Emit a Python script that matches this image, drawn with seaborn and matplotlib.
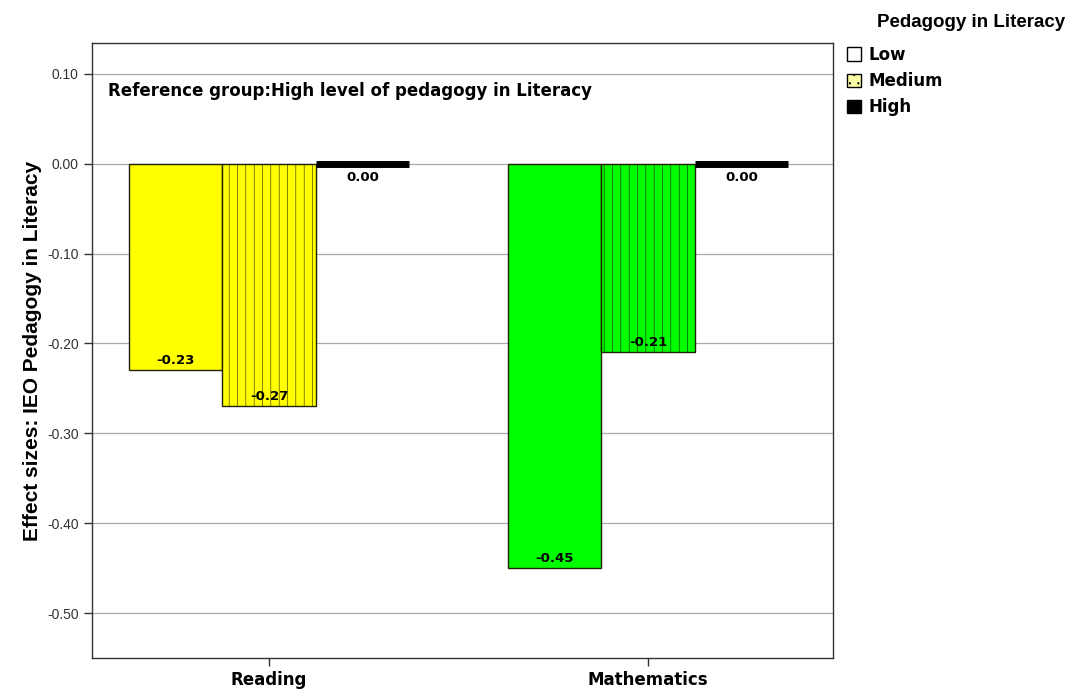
import pandas as pd
import matplotlib
matplotlib.use("Agg")
import matplotlib.pyplot as plt
import seaborn as sns
from matplotlib.patches import Patch

# data
subjects = ["Reading", "Mathematics"]
levels = ["Low", "Medium", "High"]
reading_vals = [-0.23, -0.27, 0.00]
math_vals = [-0.45, -0.21, 0.00]
yticks = [0.10, 0.00, -0.10, -0.20, -0.30, -0.40, -0.50]

sns.set_style("white")
plt.rcParams['font.family'] = ['Liberation Sans', 'DejaVu Sans']
plt.rcParams['hatch.linewidth'] = 0.4
plt.rcParams['text.color'] = 'black'
plt.rcParams['axes.labelcolor'] = 'black'
plt.rcParams['xtick.color'] = 'black'
wide = ['DejaVu Sans']  # wider bold face, closer to the spaced-out labels

df = pd.DataFrame({
    "subject": [s for s in subjects for _ in levels],
    "level": levels * 2,
    "value": reading_vals + math_vals,
})

fig = plt.figure(figsize=(10.75, 6.98), dpi=100)
ax = fig.add_axes([0.0856, 0.0573, 0.6895, 0.8811])

sns.barplot(data=df, x="subject", y="value", hue="level", hue_order=levels,
            order=subjects, width=0.74, errorbar=None, ax=ax, legend=False,
            edgecolor="black", linewidth=1)

subject_colors = {"Reading": "#ffff00", "Mathematics": "#00ff00"}
# bars come grouped by hue level
for i, lvl in enumerate(levels):
    cont = ax.containers[i]
    for j, bar in enumerate(cont):
        subj = subjects[j]
        val = df[(df.subject == subj) & (df.level == lvl)]["value"].iloc[0]
        if lvl == "High":
            bar.set_facecolor("black")
            bar.set_linewidth(5)
            bar.set_edgecolor("black")
        else:
            bar.set_facecolor(subject_colors[subj])
            bar.set_edgecolor("#222200")
            if lvl == "Medium":
                bar.set_hatch("||")
        cx = bar.get_x() + bar.get_width() / 2
        if val == 0:
            ax.text(cx, -0.008, f"{val:.2f}", ha="center", va="top",
                    fontsize=9.5, fontweight="bold", family=wide)
        else:
            ax.text(cx, val + 0.004, f"{val:.2f}", ha="center", va="bottom",
                    fontsize=9.5, fontweight="bold", family=wide)

ax.set_ylim(-0.55, 0.1344)
ax.set_xlim(-0.467, 1.488)
ax.set_yticks(yticks)
ax.set_yticklabels([f"{t:.2f}" for t in yticks], fontsize=10, color="#333333")
ax.yaxis.grid(True, color="#aaaaaa", linewidth=0.9)
ax.set_axisbelow(True)
ax.tick_params(axis="y", length=6, width=1, left=True, color="#333333")
ax.tick_params(axis="x", length=6, width=1, bottom=True, color="#333333")
ax.set_xticks([0, 1])
ax.set_xticklabels(subjects, fontsize=12, fontweight="bold", family=wide)
ax.set_xlabel("")
ax.set_ylabel("Effect sizes: IEO Pedagogy in Literacy", fontsize=15,
              fontweight="bold", labelpad=4)
for sp in ax.spines.values():
    sp.set_color("#333333")
    sp.set_linewidth(1)

ax.text(0.021, 0.922, "Reference group:High level of pedagogy in Literacy",
        transform=ax.transAxes, fontsize=12, fontweight="bold", va="center",
        family=wide)

handles = [
    Patch(facecolor="white", edgecolor="black", label="Low"),
    Patch(facecolor="#ffffaa", edgecolor="black", hatch="..", label="Medium"),
    Patch(facecolor="black", edgecolor="black", label="High"),
]
fig.text(0.991, 0.968, "Pedagogy in Literacy", ha="right", va="center",
         fontsize=13.5, fontweight="bold")
fig.legend(handles=handles, loc="upper left", bbox_to_anchor=(0.782, 0.944),
           frameon=False, prop={"weight": "bold", "size": 12, "family": wide},
           handlelength=0.85, handleheight=0.85, handletextpad=0.45,
           labelspacing=0.5, borderaxespad=0)

fig.savefig("out.png", dpi=100)
